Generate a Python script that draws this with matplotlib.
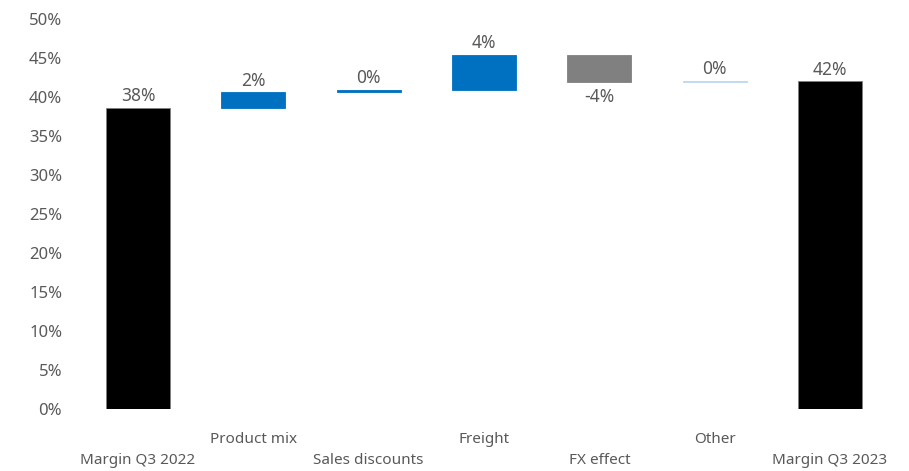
import matplotlib
matplotlib.use('Agg')
import matplotlib.pyplot as plt
import matplotlib.transforms as mtransforms

plt.rcParams['font.family'] = ['Noto Sans', 'DejaVu Sans']

categories = ['Margin Q3 2022', 'Product mix', 'Sales discounts', 'Freight',
              'FX effect', 'Other', 'Margin Q3 2023']
start_margin = 38.6
deltas = [2.0, 0.3, 4.5, -3.5, 0.2]
end_margin = 42.0
value_labels = ['38%', '2%', '0%', '4%', '-4%', '0%', '42%']
colors = ['#000000', '#0070C0', '#0070C0', '#0070C0', '#808080', '#BDD7EE', '#000000']
text_gray = '#595959'

# bottoms and heights for the waterfall
bottoms = [0]
heights = [start_margin]
level = start_margin
for d in deltas:
    bottoms.append(level if d >= 0 else level + d)
    heights.append(abs(d))
    level += d
bottoms.append(0)
heights.append(end_margin)

fig = plt.figure(figsize=(9.09, 4.71), dpi=100)
ax = fig.add_axes([0.0883, 0.131, 0.8883, 0.8287])

x = list(range(len(categories)))
edges = ['#7f7f7f' if c == '#000000' else c for c in colors]
ax.bar(x, heights, bottom=bottoms, width=0.555, color=colors,
       edgecolor=edges, linewidth=0.6)

ax.set_xlim(-0.5, len(categories) - 0.5)
ax.set_ylim(0, 50)
ax.set_yticks(range(0, 51, 5))
ax.set_yticklabels([f'{v}%' for v in range(0, 51, 5)])
ax.tick_params(axis='y', length=0, pad=13, labelsize=12, labelcolor=text_gray)
ax.set_xticks([])
for s in ax.spines.values():
    s.set_visible(False)

# value labels
all_deltas = [start_margin] + deltas + [end_margin]
for i, (b, h, d) in enumerate(zip(bottoms, heights, all_deltas)):
    if d >= 0:
        ax.annotate(value_labels[i], (i, b + h), xytext=(0, 2), textcoords='offset points',
                    ha='center', va='bottom', fontsize=12.5, color=text_gray)
    else:
        ax.annotate(value_labels[i], (i, b), xytext=(0, -4), textcoords='offset points',
                    ha='center', va='top', fontsize=12.5, color=text_gray)

# staggered category labels
trans = mtransforms.blended_transform_factory(ax.transData, ax.transAxes)
for i, name in enumerate(categories):
    off = -51 if i % 2 == 0 else -30
    ax.annotate(name, (i, 0), xycoords=trans, xytext=(0, off * 0.72),
                textcoords='offset points', ha='center', va='center',
                fontsize=11, color=text_gray)

fig.savefig('out.png', dpi=100)
